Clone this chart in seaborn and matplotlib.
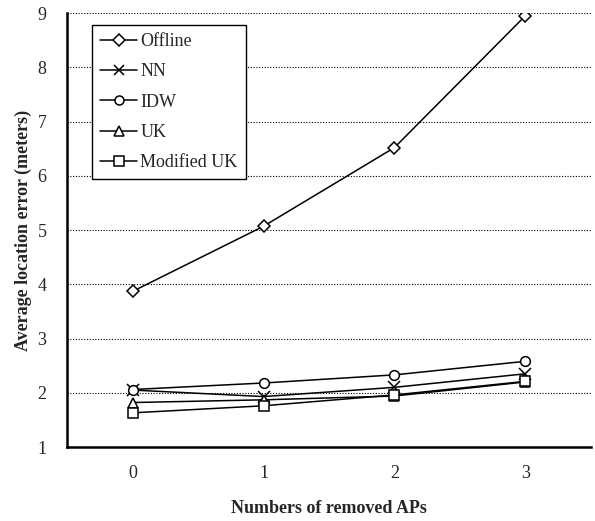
import matplotlib
matplotlib.use("Agg")
import matplotlib.pyplot as plt
import seaborn as sns
import pandas as pd
from matplotlib.ticker import FixedLocator, NullFormatter

removed_aps = [0, 1, 2, 3]
offline = [3.87, 5.07, 6.52, 8.95]
nn = [2.05, 1.93, 2.10, 2.35]
idw = [2.06, 2.18, 2.33, 2.58]
uk = [1.82, 1.87, 1.94, 2.20]
modified_uk = [1.63, 1.76, 1.96, 2.21]

series_names = ["Offline", "NN", "IDW", "UK", "Modified UK"]
series_values = [offline, nn, idw, uk, modified_uk]
markers = ["D", "x", "o", "^", "s"]
msizes = [6.5, 8, 7, 7, 7]

sns.set_style("white")
plt.rcParams["font.family"] = ["Liberation Serif", "DejaVu Serif"]

fig = plt.figure(figsize=(5.95, 5.21), dpi=100)
ax = fig.add_axes([0.113, 0.142, 0.88, 0.833])

for name, vals, m, ms in zip(series_names, series_values, markers, msizes):
    df = pd.DataFrame({"x": removed_aps, "y": vals})
    sns.lineplot(data=df, x="x", y="y", ax=ax, color="black", lw=1.1,
                 marker=m, markersize=ms, markerfacecolor="white",
                 markeredgecolor="black", markeredgewidth=1.1, label=name)

ax.set_xlim(-0.5, 3.5)
ax.set_ylim(1, 9)
ax.set_yticks(range(1, 10))
ax.set_xticks([-0.5, 0.5, 1.5, 2.5, 3.5])
ax.xaxis.set_major_formatter(NullFormatter())
ax.xaxis.set_minor_locator(FixedLocator(removed_aps))
ax.set_xticklabels([str(v) for v in removed_aps], minor=True)
ax.tick_params(axis="x", which="major", direction="out", length=6, width=1.2, color="black")
ax.tick_params(axis="x", which="minor", length=0, pad=13, labelsize=13)
ax.tick_params(axis="y", direction="inout", length=8, width=1.2, color="black", labelsize=13, pad=11)

ax.yaxis.grid(True, linestyle=(0, (1, 1.5)), color="black", lw=0.8)
ax.xaxis.grid(False)
for s in ["top", "right"]:
    ax.spines[s].set_visible(False)
for s in ["left", "bottom"]:
    ax.spines[s].set_color("black")
    ax.spines[s].set_linewidth(1.8)

ax.set_xlabel("Numbers of removed APs", fontsize=13, fontweight="bold", labelpad=13)
ax.set_ylabel("Average location error (meters)", fontsize=13, fontweight="bold", labelpad=4)

leg = ax.legend(loc="upper left", bbox_to_anchor=(0.048, 0.973), fontsize=13,
                frameon=True, fancybox=False, edgecolor="black", framealpha=1,
                labelspacing=0.74, handlelength=2.0, handletextpad=0.2,
                borderpad=0.45, borderaxespad=0)
leg.get_frame().set_linewidth(1.0)
for h in leg.legend_handles:
    h.set_markersize(6.5)

fig.savefig("out.png", dpi=100)
